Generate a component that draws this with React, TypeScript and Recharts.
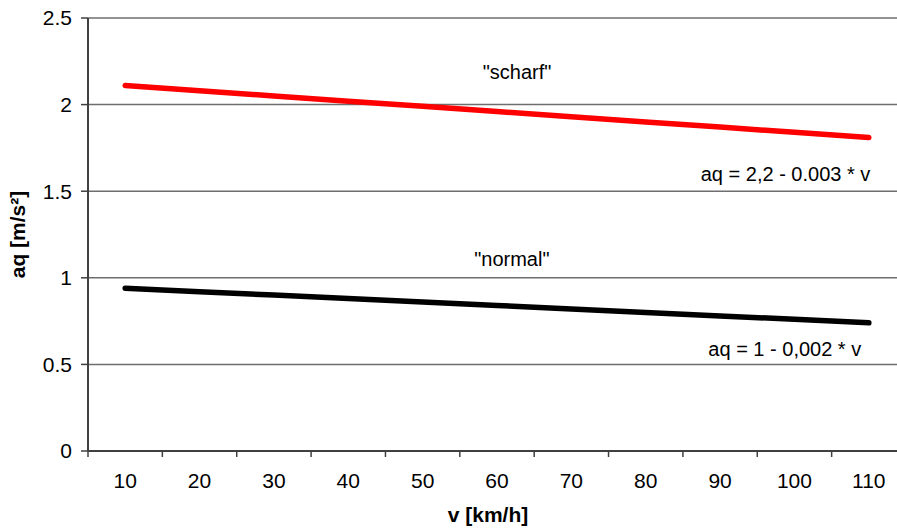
import React from 'react';
import { LineChart, Line, XAxis, YAxis, CartesianGrid, ReferenceDot } from 'recharts';

const speeds = [10, 20, 30, 40, 50, 60, 70, 80, 90, 100, 110];
const scharf = [2.11, 2.08, 2.05, 2.02, 1.99, 1.96, 1.93, 1.9, 1.87, 1.84, 1.81];
const normal = [0.94, 0.92, 0.9, 0.88, 0.86, 0.84, 0.82, 0.8, 0.78, 0.76, 0.74];
const yTicks = [0, 0.5, 1, 1.5, 2, 2.5];
// labels sit on the categories, tick marks sit between them
const xTicks = [5, 10, 15, 20, 25, 30, 35, 40, 45, 50, 55, 60, 65, 70, 75, 80, 85, 90, 95, 100, 105, 110, 115];

const data = speeds.map((v, i) => ({ v, scharf: scharf[i], normal: normal[i] }));

const FONT = '"Liberation Sans", Arial, sans-serif';
const AXIS = '#404040';

const XTick = ({ x, y, payload }: any) => {
  const v = payload.value;
  if (v % 10 === 5) {
    return <line x1={x} x2={x} y1={y} y2={y + 6} stroke={AXIS} strokeWidth={1.5} />;
  }
  return (
    <text x={x} y={y + 37} textAnchor="middle" fontSize={21} fontFamily={FONT} fill="#000">
      {v}
    </text>
  );
};

const note = (text: string) => ({
  value: text,
  position: 'center' as const,
  fontSize: 20,
  fontFamily: FONT,
  fill: '#000',
});

const App = () => {
  return (
    <div style={{ position: 'fixed', left: 0, top: 0, width: 897, height: 530, overflow: 'hidden', background: '#fff' }}>
      <LineChart width={910} height={530} data={data} margin={{ top: 18, right: 4, left: 0, bottom: 0 }}>
        <CartesianGrid vertical={false} stroke="#6e6e6e" strokeWidth={1.5} />
        <XAxis
          dataKey="v"
          type="number"
          domain={[5, 115]}
          ticks={xTicks}
          interval={0}
          height={79}
          tickSize={0}
          tickMargin={0}
          tickLine={false}
          tick={<XTick />}
          axisLine={{ stroke: AXIS, strokeWidth: 2 }}
          label={{
            content: ({ viewBox }: any) => (
              <text x={viewBox.x + 400} y={viewBox.y + 71} textAnchor="middle" fontSize={21} fontWeight="bold" fontFamily={FONT} fill="#000">
                v [km/h]
              </text>
            ),
          }}
        />
        <YAxis
          type="number"
          domain={[0, 2.5]}
          ticks={yTicks}
          interval={0}
          width={88}
          tickSize={7}
          tickMargin={9}
          tick={{ fontSize: 21, fontFamily: FONT, fill: '#000' }}
          tickLine={{ stroke: AXIS, strokeWidth: 1.5 }}
          axisLine={{ stroke: AXIS, strokeWidth: 2 }}
          label={{
            content: ({ viewBox }: any) => {
              const cx = viewBox.x + 25;
              const cy = viewBox.y + viewBox.height / 2;
              return (
                <text x={cx} y={cy} transform={`rotate(-90, ${cx}, ${cy})`} textAnchor="middle" fontSize={21} fontWeight="bold" fontFamily={FONT} fill="#000">
                  aq [m/s²]
                </text>
              );
            },
          }}
        />
        <Line type="linear" dataKey="scharf" stroke="#ff0000" strokeWidth={5.5} strokeLinecap="round" dot={false} isAnimationActive={false} />
        <Line type="linear" dataKey="normal" stroke="#000000" strokeWidth={5.5} strokeLinecap="round" dot={false} isAnimationActive={false} />
        <ReferenceDot x={62.7} y={2.19} r={0} label={note('"scharf"')} />
        <ReferenceDot x={98.8} y={1.6} r={0} label={note('aq = 2,2 - 0.003 * v')} />
        <ReferenceDot x={62} y={1.11} r={0} label={note('"normal"')} />
        <ReferenceDot x={98.7} y={0.59} r={0} label={note('aq = 1 - 0,002 * v')} />
      </LineChart>
    </div>
  );
};

export default App;
